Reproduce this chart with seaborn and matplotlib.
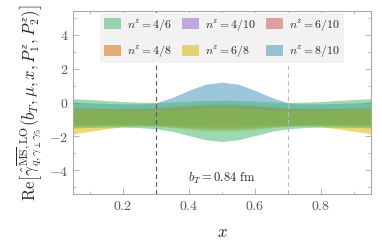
import matplotlib
matplotlib.use("Agg")
import matplotlib.pyplot as plt
import matplotlib.patches as mpatches
from matplotlib.ticker import MultipleLocator, FuncFormatter
import seaborn as sns

# x grid of the bands
x_grid = [0.05, 0.10, 0.15, 0.20, 0.25, 0.30, 0.35, 0.40, 0.45, 0.50,
          0.55, 0.60, 0.65, 0.70, 0.75, 0.80, 0.85, 0.90, 0.95]

labels = ["4/6", "4/8", "4/10", "6/8", "6/10", "8/10"]
colors = ["#4fb873", "#d5730d", "#976cce", "#dcba08", "#d25b5b", "#4b97ba"]
# order in which the bands are painted (last one on top)
draw_order = [2, 4, 5, 1, 3, 0]

upper_46 = [0.22, 0.18, 0.12, 0.06, 0.02, 0.00, 0.03, 0.08, 0.12, 0.13,
            0.12, 0.08, 0.03, 0.00, 0.02, 0.06, 0.12, 0.18, 0.22]
lower_46 = [-1.50, -1.47, -1.45, -1.45, -1.48, -1.55, -1.70, -1.95, -2.20, -2.30,
            -2.20, -1.95, -1.70, -1.55, -1.48, -1.45, -1.45, -1.47, -1.50]

upper_48 = [-0.30, -0.32, -0.34, -0.35, -0.35, -0.33, -0.28, -0.22, -0.17, -0.15,
            -0.17, -0.22, -0.28, -0.33, -0.35, -0.35, -0.34, -0.32, -0.30]
lower_48 = [-1.38, -1.35, -1.32, -1.30, -1.30, -1.32, -1.36, -1.40, -1.44, -1.45,
            -1.44, -1.40, -1.36, -1.32, -1.30, -1.30, -1.32, -1.35, -1.38]

upper_410 = [-0.35, -0.36, -0.38, -0.38, -0.36, -0.30, -0.22, -0.14, -0.07, -0.05,
             -0.07, -0.14, -0.22, -0.30, -0.36, -0.38, -0.38, -0.36, -0.35]
lower_410 = [-1.25, -1.25, -1.25, -1.25, -1.26, -1.28, -1.30, -1.32, -1.34, -1.35,
             -1.34, -1.32, -1.30, -1.28, -1.26, -1.25, -1.25, -1.25, -1.25]

upper_68 = [-0.40, -0.42, -0.44, -0.45, -0.45, -0.44, -0.40, -0.35, -0.30, -0.28,
            -0.30, -0.35, -0.40, -0.44, -0.45, -0.45, -0.44, -0.42, -0.40]
lower_68 = [-1.85, -1.70, -1.55, -1.43, -1.38, -1.40, -1.48, -1.58, -1.65, -1.68,
            -1.65, -1.58, -1.48, -1.40, -1.38, -1.43, -1.55, -1.70, -1.85]

upper_610 = [-0.40, -0.41, -0.42, -0.42, -0.40, -0.36, -0.30, -0.25, -0.21, -0.20,
             -0.21, -0.25, -0.30, -0.36, -0.40, -0.42, -0.42, -0.41, -0.40]
lower_610 = [-1.20, -1.20, -1.20, -1.21, -1.22, -1.24, -1.26, -1.28, -1.30, -1.30,
             -1.30, -1.28, -1.26, -1.24, -1.22, -1.21, -1.20, -1.20, -1.20]

upper_810 = [0.02, -0.02, -0.05, -0.08, -0.08, -0.02, 0.30, 0.72, 1.08, 1.20,
             1.08, 0.72, 0.30, -0.02, -0.08, -0.08, -0.05, -0.02, 0.02]
lower_810 = [-1.35, -1.35, -1.35, -1.35, -1.35, -1.38, -1.42, -1.48, -1.52, -1.55,
             -1.52, -1.48, -1.42, -1.38, -1.35, -1.35, -1.35, -1.35, -1.35]

uppers = [upper_46, upper_48, upper_410, upper_68, upper_610, upper_810]
lowers = [lower_46, lower_48, lower_410, lower_68, lower_610, lower_810]

sns.set_style("ticks")
plt.rcParams["font.family"] = ["DejaVu Serif"]
plt.rcParams["mathtext.fontset"] = "cm"

fig = plt.figure(figsize=(3.82, 2.43), dpi=100)
ax = fig.add_axes([0.192, 0.2016, 0.778, 0.7531])

alphas = [0.55, 0.45, 0.30, 0.55, 0.30, 0.55]
for i in draw_order:
    ax.fill_between(x_grid, lowers[i], uppers[i], color=colors[i], alpha=alphas[i], linewidth=0)

handles = [mpatches.Patch(facecolor=c, alpha=0.55, edgecolor="none", label=r"$n^z = %s$" % lab)
           for lab, c in zip(labels, colors)]

ax.axvline(0.3, color="#555555", linestyle=(0, (4, 3)), linewidth=0.8)
ax.axvline(0.7, color="#bbbbbb", linestyle=(0, (4, 3)), linewidth=0.8)

ax.text(0.5, -4.5, r"$b_T = 0.84\ \mathrm{fm}$", ha="center", va="center", fontsize=9)

ax.set_xlim(0.05, 0.95)
ax.set_ylim(-5.4, 5.4)
ax.xaxis.set_major_locator(MultipleLocator(0.2))
ax.xaxis.set_minor_locator(MultipleLocator(0.1))
ax.yaxis.set_major_locator(MultipleLocator(2))
ax.yaxis.set_minor_locator(MultipleLocator(1))
ax.xaxis.set_major_formatter(FuncFormatter(lambda v, p: r"$%.1f$" % v))
ax.yaxis.set_major_formatter(FuncFormatter(lambda v, p: r"$%d$" % round(v)))
ax.tick_params(which="both", direction="in", top=True, right=True, color="#aaaaaa",
               labelcolor="#555555", labelsize=10)
ax.tick_params(which="major", length=4, width=0.6)
ax.tick_params(which="minor", length=2, width=0.5)
for s in ax.spines.values():
    s.set_color("#aaaaaa")
    s.set_linewidth(0.8)

ax.set_xlabel(r"$x$", fontsize=12, labelpad=8)
ax.set_ylabel(r"$\mathrm{Re}\left[\hat{\gamma}^{\overline{\mathrm{MS}},\mathrm{LO}}_{q,\gamma_{\perp}\gamma_5}(b_T,\mu,x,P_1^z,P_2^z)\right]$",
              fontsize=12, labelpad=3)

leg = ax.legend(handles=handles, ncol=3, loc="upper center",
                bbox_to_anchor=(0.5, 0.989), fontsize=8.5,
                frameon=True, fancybox=False, handlelength=1.5, handleheight=1.1,
                handletextpad=0.5, borderaxespad=0, borderpad=0.3,
                columnspacing=0.8, labelspacing=0.9)
leg.get_frame().set_facecolor("#f2f2f2")
leg.get_frame().set_edgecolor("none")
leg.get_frame().set_alpha(1)

fig.savefig("out.png", dpi=100)
